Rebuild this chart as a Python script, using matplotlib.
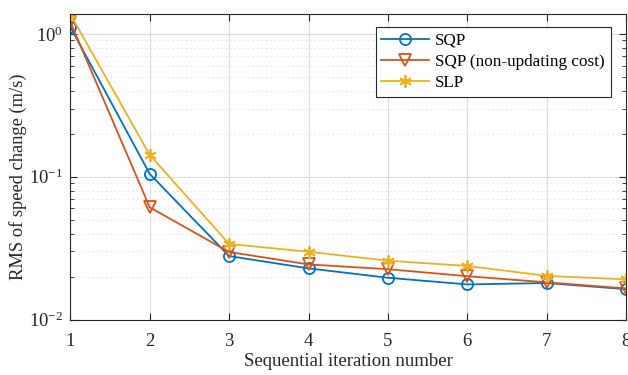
import numpy as np
import matplotlib.pyplot as plt
from matplotlib.ticker import LogLocator, NullFormatter

iterations = [1, 2, 3, 4, 5, 6, 7, 8]
rms_sqp = [1.12, 0.1045, 0.0278, 0.0228, 0.0196, 0.0176, 0.0180, 0.0163]
rms_sqp_fixed = [1.21, 0.061, 0.0297, 0.0243, 0.0225, 0.0201, 0.0182, 0.0165]
rms_slp = [1.37, 0.142, 0.0338, 0.0298, 0.0258, 0.0237, 0.0202, 0.0191]

plt.rcParams['font.family'] = ['Liberation Serif', 'DejaVu Serif']
plt.rcParams['mathtext.fontset'] = 'stix'

fig = plt.figure(figsize=(6.28, 3.75), dpi=100)
ax = fig.add_axes([0.112, 0.148, 0.885, 0.815])

ax.plot(iterations, rms_sqp, color='#0072BD', lw=1.3, marker='o', ms=8,
        mfc='none', mew=1.3, label='SQP')
ax.plot(iterations, rms_sqp_fixed, color='#D95319', lw=1.3, marker='v', ms=8,
        mfc='none', mew=1.3, label='SQP (non-updating cost)')
ax.plot(iterations, rms_slp, color='#EDB120', lw=1.3, marker=(6, 2, 0), ms=9,
        mew=1.3, label='SLP')

ax.set_yscale('log')
ax.set_xlim(1, 8)
ax.set_ylim(0.01, 1.38)
ax.set_xticks(iterations)
ax.yaxis.set_major_locator(LogLocator(base=10, numticks=10))
ax.yaxis.set_minor_locator(LogLocator(base=10, subs=np.arange(2, 10), numticks=10))
ax.yaxis.set_minor_formatter(NullFormatter())

ax.grid(True, which='major', color='#dcdcdc', lw=0.8)
ax.grid(True, which='minor', color='#dcdcdc', lw=0.8, ls=(0, (1, 3)))
ax.set_axisbelow(True)

for s in ax.spines.values():
    s.set_color('#262626')
    s.set_linewidth(0.8)
ax.tick_params(which='both', direction='in', top=True, right=True,
               colors='#262626', labelsize=13.5)
ax.tick_params(which='major', length=5)
ax.tick_params(which='minor', length=3)
ax.tick_params(axis='x', pad=10)
ax.tick_params(axis='y', pad=5)

ax.set_xlabel('Sequential iteration number', fontsize=13.5, color='#262626')
ax.set_ylabel('RMS of speed change (m/s)', fontsize=13.3, color='#262626')
ax.xaxis.set_label_coords(0.5, -0.108)
ax.yaxis.set_label_coords(-0.078, 0.468)

leg = ax.legend(loc='upper right', bbox_to_anchor=(0.988, 0.985), fontsize=12.3,
                fancybox=False, framealpha=1, edgecolor='#262626',
                handlelength=2.8, borderpad=0.35, labelspacing=0.3,
                handletextpad=0.35)
leg.get_frame().set_linewidth(0.8)

fig.savefig('out.png', dpi=100)
